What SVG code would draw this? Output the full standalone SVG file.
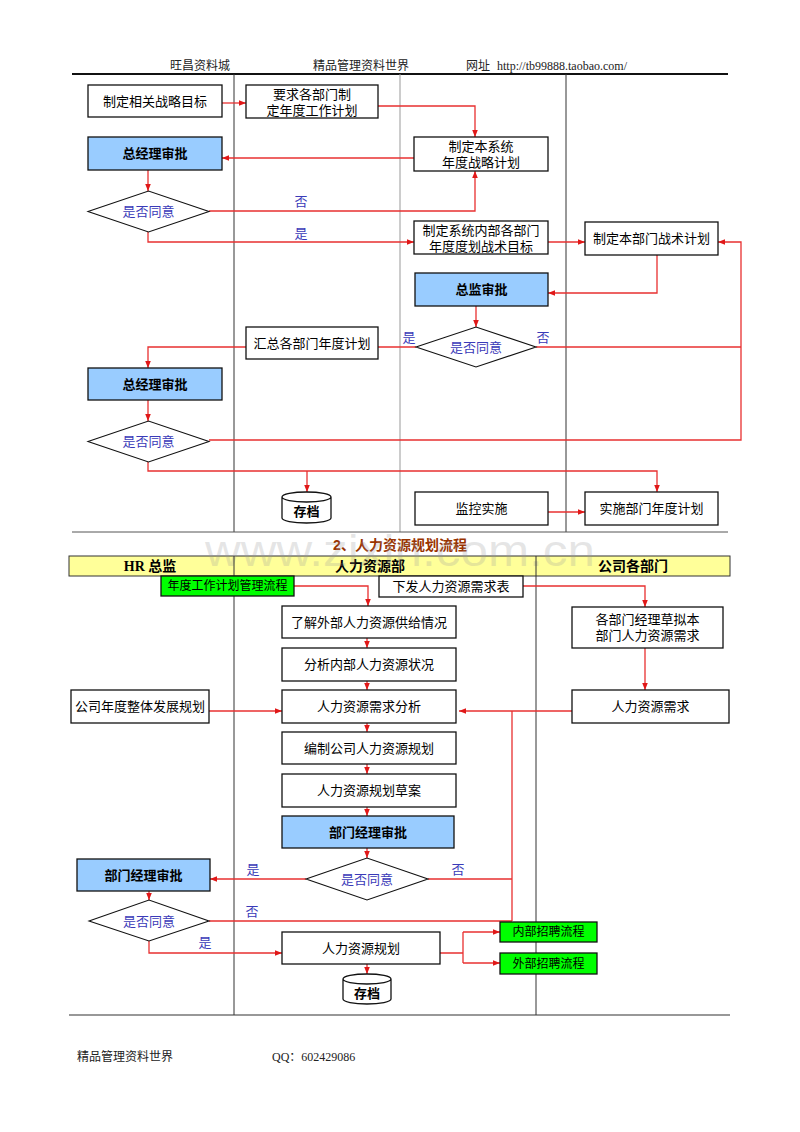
<svg xmlns="http://www.w3.org/2000/svg" width="800" height="1132" viewBox="0 0 800 1132">
<style>
.bg{fill:#fff}
.box{fill:#fff;stroke:#111;stroke-width:1.3}
.blue{fill:#99ccff;stroke:#111;stroke-width:1.3}
.green{fill:#00ff00;stroke:#111;stroke-width:1.3}
.dia{fill:#fff;stroke:#111;stroke-width:1.1}
.t{font-family:"Liberation Sans","Noto Sans CJK SC",sans-serif;font-size:13px;fill:#000;text-anchor:middle}
.tb{font-family:"Liberation Sans","Noto Sans CJK SC",sans-serif;font-size:13px;fill:#000;text-anchor:middle;font-weight:bold}
.tg{font-family:"Liberation Sans","Noto Sans CJK SC",sans-serif;font-size:12px;fill:#000;text-anchor:middle}
.td{font-family:"Liberation Sans","Noto Sans CJK SC",sans-serif;font-size:13px;fill:#3a3ab8;text-anchor:middle}
.lb{font-family:"Liberation Sans","Noto Sans CJK SC",sans-serif;font-size:13px;fill:#3a3ab8;text-anchor:middle}
.hd{font-family:"Liberation Serif","Noto Sans CJK SC",serif;font-size:12px;fill:#222}
.ln{stroke:#e83030;stroke-width:1.3;fill:none}
.ar{marker-end:url(#arr)}
.lane{stroke:#333;stroke-width:1}
.laneg{stroke:#999;stroke-width:1}
.col{font-family:"Liberation Serif","Noto Sans CJK SC",serif;font-size:14px;fill:#000;text-anchor:middle;font-weight:bold}
</style>
<defs>
<marker id="arr" viewBox="0 0 10 10" refX="10" refY="5" markerWidth="7" markerHeight="7" orient="auto" markerUnits="userSpaceOnUse">
<path d="M0,1 L10,5 L0,9 z" fill="#e01818"/>
</marker>
</defs>
<rect class="bg" x="0" y="0" width="800" height="1132"/>

<g id="header">
<text class="hd" x="170" y="70">旺昌资料城</text>
<text class="hd" x="313" y="70">精品管理资料世界</text>
<text class="hd" x="466" y="70">网址</text>
<text class="hd" x="497" y="70">http://tb99888.taobao.com/</text>
<line x1="72" y1="74" x2="728" y2="74" stroke="#111" stroke-width="2"/>
</g>

<g id="lanes1">
<line class="lane" x1="234" y1="74" x2="234" y2="532"/>
<line class="laneg" x1="400" y1="74" x2="400" y2="532"/>
<line class="lane" x1="566" y1="74" x2="566" y2="532"/>
<line x1="72" y1="532" x2="728" y2="532" stroke="#555" stroke-width="1"/>
</g>

<g id="connectors1">
<path class="ln ar" d="M222,103 H246"/>
<path class="ln ar" d="M378,106 H475 V137"/>
<path class="ln ar" d="M414,158 H222"/>
<path class="ln ar" d="M148,170 V191"/>
<path class="ln ar" d="M209,211 H475 V171"/>
<path class="ln ar" d="M148,232 V242 H414"/>
<path class="ln ar" d="M548,242 H585"/>
<path class="ln ar" d="M657,255 V293 H548"/>
<path class="ln ar" d="M476,306 V327"/>
<path class="ln" d="M416,347 H378"/>
<path class="ln ar" d="M246,347 H148 V368"/>
<path class="ln ar" d="M148,400 V421"/>
<path class="ln" d="M536,347 H741"/>
<path class="ln ar" d="M209,440 H741 V242 H718"/>
<path class="ln ar" d="M148,462 V471 H657 V492"/>
<path class="ln ar" d="M307,471 V492"/>
<path class="ln ar" d="M548,512 H585"/>
<text class="lb" x="301" y="206">否</text>
<text class="lb" x="301" y="238">是</text>
<text class="lb" x="409" y="342">是</text>
<text class="lb" x="543" y="342">否</text>
</g>

<g id="n1"><rect class="box" x="88" y="85" width="134" height="32"/><text class="t" x="155" y="106">制定相关战略目标</text></g>
<g id="n2"><rect class="box" x="246" y="85" width="132" height="33"/><text class="t" x="312" y="99">要求各部门制</text><text class="t" x="312" y="115">定年度工作计划</text></g>
<g id="n3"><rect class="box" x="414" y="137" width="134" height="34"/><text class="t" x="481" y="151">制定本系统</text><text class="t" x="481" y="167">年度战略计划</text></g>
<g id="n4"><rect class="blue" x="88" y="137" width="134" height="33"/><text class="tb" x="155" y="158">总经理审批</text></g>
<g id="n5"><polygon class="dia" points="88,211.5 148.5,191 209,211.5 148.5,232"/><text class="td" x="148.5" y="216">是否同意</text></g>
<g id="n6"><rect class="box" x="414" y="221" width="134" height="33"/><text class="t" x="481" y="235">制定系统内部各部门</text><text class="t" x="481" y="251">年度度划战术目标</text></g>
<g id="n7"><rect class="box" x="585" y="222" width="133" height="33"/><text class="t" x="651.5" y="243">制定本部门战术计划</text></g>
<g id="n8"><rect class="blue" x="415" y="273" width="133" height="33"/><text class="tb" x="481.5" y="294">总监审批</text></g>
<g id="n9"><polygon class="dia" points="416,347 476,327 536,347 476,367"/><text class="td" x="476" y="352">是否同意</text></g>
<g id="n10"><rect class="box" x="246" y="327" width="132" height="32"/><text class="t" x="312" y="348">汇总各部门年度计划</text></g>
<g id="n11"><rect class="blue" x="88" y="368" width="134" height="32"/><text class="tb" x="155" y="389">总经理审批</text></g>
<g id="n12"><polygon class="dia" points="88,441.5 148.5,421 209,441.5 148.5,462"/><text class="td" x="148.5" y="446">是否同意</text></g>
<g id="n13"><path class="box" d="M282,497 A24.5,5 0 0 1 331,497 V518 A24.5,5 0 0 1 282,518 Z M282,497 A24.5,5 0 0 0 331,497"/><text class="tb" x="306.5" y="516">存档</text></g>
<g id="n14"><rect class="box" x="415" y="492" width="133" height="33"/><text class="t" x="481.5" y="513">监控实施</text></g>
<g id="n15"><rect class="box" x="585" y="492" width="133" height="33"/><text class="t" x="651.5" y="513">实施部门年度计划</text></g>

<g id="section2head">
<text x="400" y="550" font-family="Liberation Sans,Noto Sans CJK SC,sans-serif" font-size="14" font-weight="bold" fill="#993300" text-anchor="middle">2、人力资源规划流程</text>
<rect x="69" y="556" width="661" height="20" fill="#ffff99" stroke="#333" stroke-width="1"/>
<text class="col" x="150" y="571" font-weight="normal">HR 总监</text>
<text class="col" x="370" y="571">人力资源部</text>
<text class="col" x="633" y="571">公司各部门</text>
<text x="400" y="566" font-family="Liberation Sans,sans-serif" font-size="44" fill="#999" fill-opacity="0.25" text-anchor="middle" textLength="390" lengthAdjust="spacingAndGlyphs">www.zixin.com.cn</text>
</g>

<g id="lanes2">
<line class="lane" x1="234" y1="556" x2="234" y2="1015"/>
<line class="lane" x1="536" y1="556" x2="536" y2="1015"/>
<line x1="69" y1="1015" x2="730" y2="1015" stroke="#333" stroke-width="1.2"/>
</g>

<g id="connectors2">
<path class="ln ar" d="M294,586 H368 V606"/>
<path class="ln ar" d="M523,586 H645 V607"/>
<path class="ln ar" d="M367,638 V648"/>
<path class="ln ar" d="M367,681 V690"/>
<path class="ln ar" d="M367,723 V732"/>
<path class="ln ar" d="M367,764 V774"/>
<path class="ln ar" d="M367,807 V816"/>
<path class="ln ar" d="M367,848 V858"/>
<path class="ln ar" d="M645,648 V690"/>
<path class="ln ar" d="M572,711 H459"/>
<path class="ln ar" d="M209,711 H282"/>
<path class="ln" d="M428,879 H512 M512,711 V921 M209,921 H512"/>
<path class="ln ar" d="M306,879 H210"/>
<path class="ln ar" d="M149,891 V900"/>
<path class="ln ar" d="M149,941 V953 H282"/>
<path class="ln ar" d="M367,964 V974"/>
<path class="ln" d="M440,953 H463 M463,932 V963"/>
<path class="ln ar" d="M463,932 H500"/>
<path class="ln ar" d="M463,963 H500"/>
<text class="lb" x="253" y="874">是</text>
<text class="lb" x="458" y="874">否</text>
<text class="lb" x="252" y="916">否</text>
<text class="lb" x="205" y="947">是</text>
</g>

<g id="m1"><rect class="green" x="161" y="576" width="133" height="20"/><text class="tg" x="227.5" y="590">年度工作计划管理流程</text></g>
<g id="m2"><rect class="box" x="379" y="576" width="144" height="21"/><text class="t" x="451" y="591">下发人力资源需求表</text></g>
<g id="m3"><rect class="box" x="282" y="606" width="174" height="32"/><text class="t" x="369" y="627">了解外部人力资源供给情况</text></g>
<g id="m4"><rect class="box" x="282" y="648" width="174" height="33"/><text class="t" x="369" y="669">分析内部人力资源状况</text></g>
<g id="m5"><rect class="box" x="282" y="690" width="174" height="33"/><text class="t" x="369" y="711">人力资源需求分析</text></g>
<g id="m6"><rect class="box" x="282" y="732" width="174" height="32"/><text class="t" x="369" y="753">编制公司人力资源规划</text></g>
<g id="m7"><rect class="box" x="282" y="774" width="174" height="33"/><text class="t" x="369" y="795">人力资源规划草案</text></g>
<g id="m8"><rect class="blue" x="282" y="816" width="172" height="32"/><text class="tb" x="368" y="837">部门经理审批</text></g>
<g id="m9"><polygon class="dia" points="306,879 367,858 428,879 367,900"/><text class="td" x="367" y="884">是否同意</text></g>
<g id="m10"><rect class="box" x="572" y="607" width="151" height="41"/><text class="t" x="647.5" y="624">各部门经理草拟本</text><text class="t" x="647.5" y="640">部门人力资源需求</text></g>
<g id="m11"><rect class="box" x="572" y="690" width="157" height="33"/><text class="t" x="650.5" y="711">人力资源需求</text></g>
<g id="m12"><rect class="box" x="71" y="690" width="138" height="33"/><text class="t" x="140" y="711">公司年度整体发展规划</text></g>
<g id="m13"><rect class="blue" x="77" y="859" width="133" height="32"/><text class="tb" x="143.5" y="880">部门经理审批</text></g>
<g id="m14"><polygon class="dia" points="89,921 149,900 209,921 149,941"/><text class="td" x="149" y="926">是否同意</text></g>
<g id="m15"><rect class="box" x="282" y="932" width="158" height="32"/><text class="t" x="361" y="953">人力资源规划</text></g>
<g id="m16"><path class="box" d="M343,979 A24,5 0 0 1 391,979 V999 A24,5 0 0 1 343,999 Z M343,979 A24,5 0 0 0 391,979"/><text class="tb" x="367" y="998">存档</text></g>
<g id="m17"><rect class="green" x="500" y="922" width="97" height="20"/><text class="tg" x="548.5" y="936">内部招聘流程</text></g>
<g id="m18"><rect class="green" x="500" y="953" width="97" height="21"/><text class="tg" x="548.5" y="968">外部招聘流程</text></g>

<g id="footer">
<text class="hd" x="77" y="1061">精品管理资料世界</text>
<text class="hd" x="272" y="1061">QQ：602429086</text>
</g>
</svg>
